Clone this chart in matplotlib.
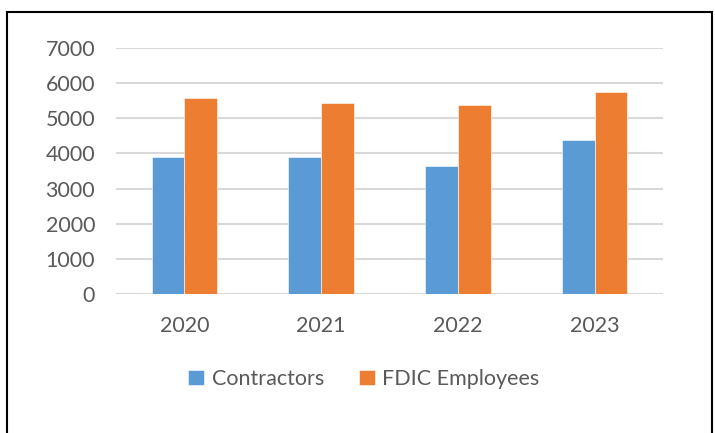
import matplotlib.pyplot as plt
import numpy as np
from matplotlib.patches import Rectangle

years = ['2020', '2021', '2022', '2023']
contractors = [3910, 3900, 3630, 4370]
fdic_employees = [5570, 5440, 5380, 5760]
yticks = [0, 1000, 2000, 3000, 4000, 5000, 6000, 7000]

plt.rcParams['font.family'] = ['Lato', 'DejaVu Sans']

fig = plt.figure(figsize=(7.15, 4.33), dpi=100)
ax = fig.add_axes([116 / 715, 1 - 294 / 433, (663 - 116) / 715, (294 - 48) / 433])

x = np.arange(len(years))
w = 0.24
ax.bar(x - w / 2, contractors, w, color='#5B9BD5', edgecolor='white', linewidth=0.4,
       label='Contractors', zorder=3)
ax.bar(x + w / 2, fdic_employees, w, color='#ED7D31', edgecolor='white', linewidth=0.4,
       label='FDIC Employees', zorder=3)

ax.set_xlim(-0.5, 3.5)
ax.set_ylim(0, 7000)
ax.set_yticks(yticks)
ax.set_xticks(x)
ax.set_xticklabels(years)
ax.yaxis.grid(True, color='#D9D9D9', linewidth=1.5, zorder=0)
ax.set_axisbelow(True)
for s in ax.spines.values():
    s.set_visible(False)
ax.tick_params(axis='both', length=0, labelsize=15.5, colors='#595959')
ax.tick_params(axis='y', pad=15)
ax.tick_params(axis='x', pad=16)

leg = fig.legend(loc='center', bbox_to_anchor=(364 / 715, 1 - 379 / 433), ncol=2,
                 frameon=False, fontsize=15.5, handlelength=0.75, handleheight=0.75,
                 handletextpad=0.35, columnspacing=1.6)
for t in leg.get_texts():
    t.set_color('#595959')

# outer chart border
fig.patches.append(Rectangle((7 / 715, -0.05), (712 - 7) / 715, 1.05 - 12 / 433,
                             transform=fig.transFigure, fill=False,
                             edgecolor='black', linewidth=1.5))

fig.savefig('out.png', dpi=100)
